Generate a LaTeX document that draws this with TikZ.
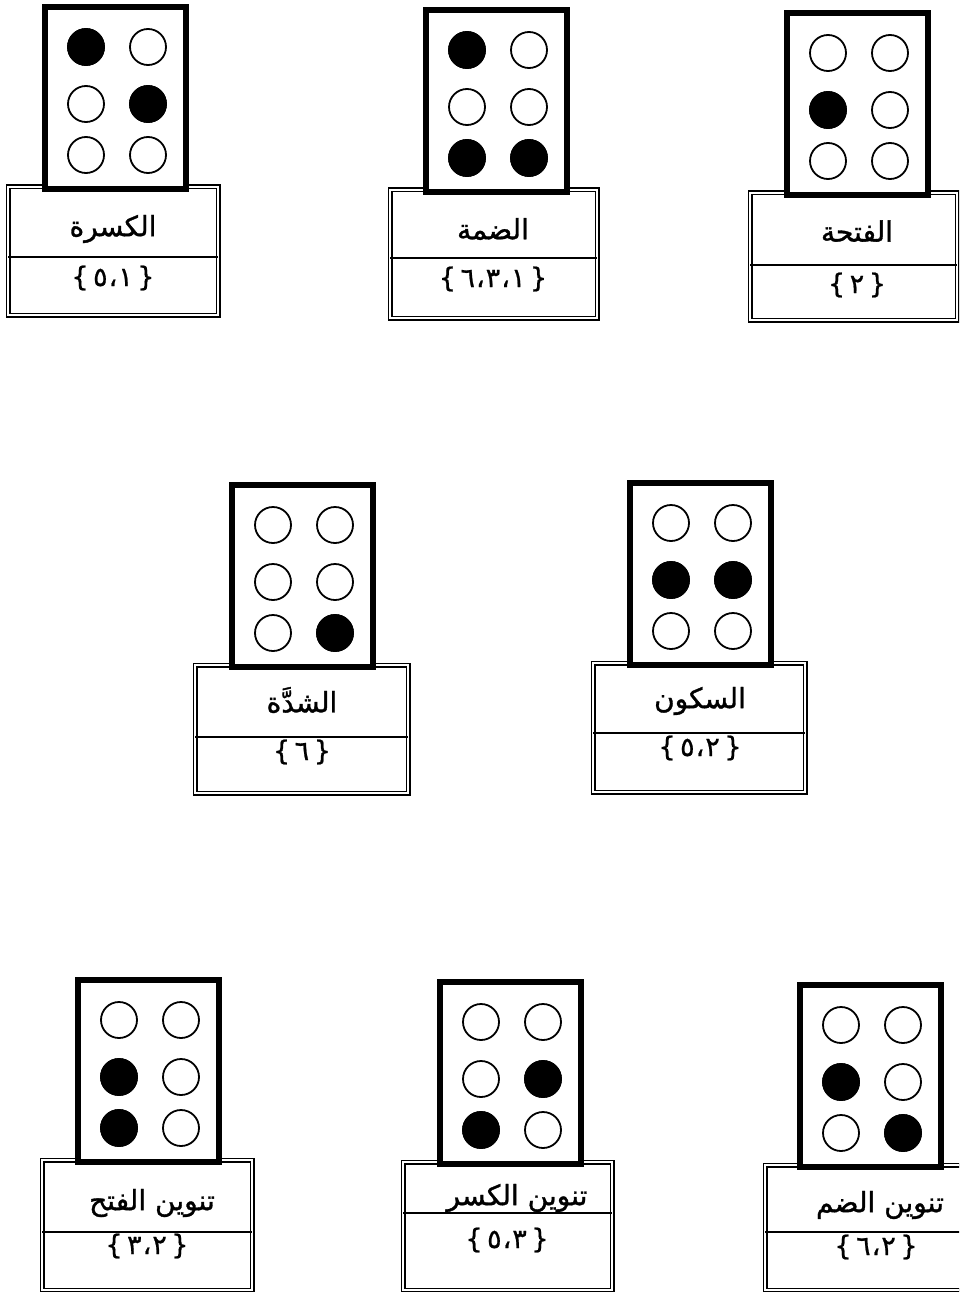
\documentclass[tikz,border=0pt]{standalone}
\usepackage{fontspec}
\newfontfamily\arabicfont[Script=Arabic,FakeBold=1.2]{DejaVu Sans}
\newfontfamily\numfont[FakeBold=0.8]{DejaVu Sans}
\TeXXeTstate=1
\tikzset{
  brbox/.style={draw=black, fill=white, line width=5.5pt},
  lblbox/.style={draw=black, double=white, double distance=2.4pt, line width=1.3pt, fill=white},
  divline/.style={draw=black, line width=1.2pt},
  dotopen/.style={draw=black, fill=white, line width=1.8pt},
  dotfull/.style={draw=black, fill=black, line width=1.8pt},
  lbl/.style={inner sep=0pt, font=\arabicfont\fontsize{28}{32}\selectfont},
  num/.style={inner sep=0pt, font=\numfont\fontsize{27}{30}\selectfont}
}
% #1 bx1, #2 by1, #3 lx1, #4 lx2, #5 ly2, #6 divider y, #7 filled dots
\newcommand\brcell[7]{%
  \draw[lblbox] (#3,#2+180) rectangle (#4,#5);
  \draw[divline] (#3,#6) -- (#4,#6);
  \draw[brbox] (#1,#2) rectangle ++(141,182);
  \foreach \cc in {0,1}{\foreach \ry in {40,97,148}{%
    \draw[dotopen] (#1+41+62*\cc,#2+\ry) circle[radius=18pt];}}
  \foreach \k in {#7}{%
    \pgfmathtruncatemacro\colix{(\k-1)/3}%
    \pgfmathtruncatemacro\rowix{mod(\k-1,3)}%
    \pgfmathsetmacro\rowy{{40,97,148}[\rowix]}%
    \draw[dotfull] (#1+41+62*\colix,#2+\rowy) circle[radius=18pt];}
}
% digits are given in their visual (left-to-right) order, as printed
\newcommand\numset[1]{\{\,#1\,\}}
\newcommand\cm{\kern1pt،\kern1pt}
\begin{document}
\begin{tikzpicture}[x=1pt,y=-1pt]
\useasboundingbox (0,0) rectangle (959,1292);
\fill[white] (0,0) rectangle (959,1292);
\begin{scope}
\clip (0,0) rectangle (959,1292);
% row 1
\brcell{45}{7}{8}{218}{315}{257}{1,5}
\brcell{426}{10}{390}{597}{318}{258}{1,3,6}
\brcell{787}{13}{750}{957}{320}{265}{2}
% row 2
\brcell{232}{485}{195}{408}{793}{737}{6}
\brcell{630}{483}{593}{805}{792}{733}{2,5}
% row 3
\brcell{78}{980}{42}{252}{1290}{1232}{2,3}
\brcell{440}{982}{403}{612}{1290}{1213}{3,5}
\brcell{800}{985}{765}{980}{1290}{1232}{2,6}
\end{scope}
% labels
\node[lbl] (kasra) at (113,229) {\beginR الكسرة\endR};
\node[num] (kasran) at (113,278) {\numset{٥\cm١}};
\node[lbl] (damma) at (493,229) {\beginR الضمة\endR};
\node[num] (dammam) at (493,279) {\numset{٦\cm٣\cm١}};
\node[lbl] (fatha) at (857,231) {\beginR الفتحة\endR};
\node[num] (fathan) at (857,285) {\numset{٢}};
\node[lbl] (shadda) at (302,700) {\beginR الشدَّة\endR};
\node[num] (shaddan) at (302,752) {\numset{٦}};
\node[lbl] (sukun) at (700,701) {\beginR السكون\endR};
\node[num] (sukunn) at (700,748) {\numset{٥\cm٢}};
\node[lbl] (tfath) at (152,1203) {\beginR تنوين الفتح\endR};
\node[num] (tfathn) at (147,1246) {\numset{٣\cm٢}};
\node[lbl] (tkasr) at (517,1198) {\beginR تنوين الكسر\endR};
\node[num] (tkasrn) at (507,1240) {\numset{٥\cm٣}};
\node[lbl] (tdamm) at (880,1205) {\beginR تنوين الضم\endR};
\node[num] (tdammn) at (876,1247) {\numset{٦\cm٢}};
\end{tikzpicture}
\end{document}
